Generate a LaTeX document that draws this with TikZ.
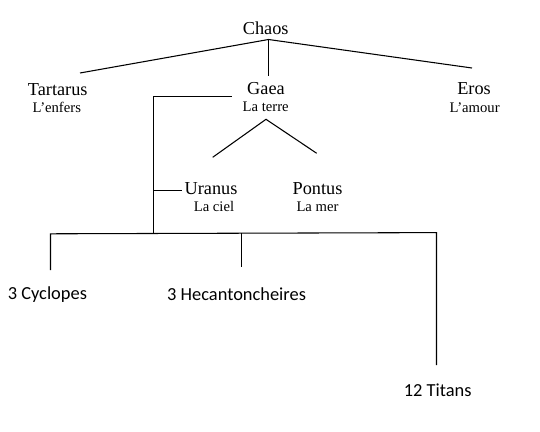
\documentclass[tikz,border=0pt]{standalone}
\usepackage{fontspec}
\setmainfont{Liberation Serif}
\newfontfamily\calib{Carlito}
\begin{document}
\begin{tikzpicture}[x=0.75pt,y=-0.75pt,
  godname/.style={anchor=base,inner sep=0pt,font=\fontsize{13.7}{16}\selectfont},
  godsub/.style={anchor=base,inner sep=0pt,font=\fontsize{11}{13}\selectfont},
  kidname/.style={anchor=base,inner sep=0pt,font=\calib\fontsize{13.8}{16}\selectfont},
  link/.style={line width=0.8pt,black}]
\useasboundingbox[fill=white] (0,0) rectangle (540,432);
% texts
\node[godname] (chaos) at (265.7,34.4) {Chaos};
\node[godname] (tartarus) at (57.7,95) {Tartarus};
\node[godsub] (enfers) at (56.8,113) {L’enfers};
\node[godname] (gaea) at (266,94.5) {Gaea};
\node[godsub] (terre) at (265.7,111.8) {La terre};
\node[godname] (eros) at (474,94.5) {Eros};
\node[godsub] (amour) at (474.7,112.5) {L’amour};
\node[godname] (uranus) at (211,194) {Uranus};
\node[godsub] (ciel) at (214,211.5) {La ciel};
\node[godname] (pontus) at (317.5,194) {Pontus};
\node[godsub] (mer) at (317.5,211.5) {La mer};
\node[kidname] (cyclopes) at (47.4,299) {3 Cyclopes};
\node[kidname] (hecaton) at (236.6,300) {3 Hecantoncheires};
\node[kidname] (titans) at (437.7,396) {12 Titans};
% connector points
\coordinate (c0) at (268.5,39.5);
\coordinate (cT) at (80,73);
\coordinate (cG) at (268.5,76);
\coordinate (cE) at (472,68);
\coordinate (g0) at (231.7,96.5);
\coordinate (g1) at (153.5,96.5);
\coordinate (u0) at (153.5,190.5);
\coordinate (u1) at (181.7,190.5);
\coordinate (v0) at (266,119.3);
\coordinate (vU) at (212.7,157.3);
\coordinate (vP) at (316.7,153.3);
\coordinate (b0) at (153.5,233.5);
\coordinate (bL) at (50.5,233.8);
\coordinate (bR) at (436.5,232.6);
\coordinate (bM) at (241.5,233.3);
\coordinate (kC) at (50.5,270);
\coordinate (kH) at (241.5,267.3);
\coordinate (kT) at (436.5,365);
% connectors
\draw[link] (cT) -- (c0) -- (cE);
\draw[link] (c0) -- (cG);
\draw[link] (g0) -- (g1) -- (b0);
\draw[link] (u0) -- (u1);
\draw[link] (vU) -- (v0) -- (vP);
\draw[link] (kC) -- (bL) -- (bR) -- (kT);
\draw[link] (bM) -- (kH);
\end{tikzpicture}
\end{document}
